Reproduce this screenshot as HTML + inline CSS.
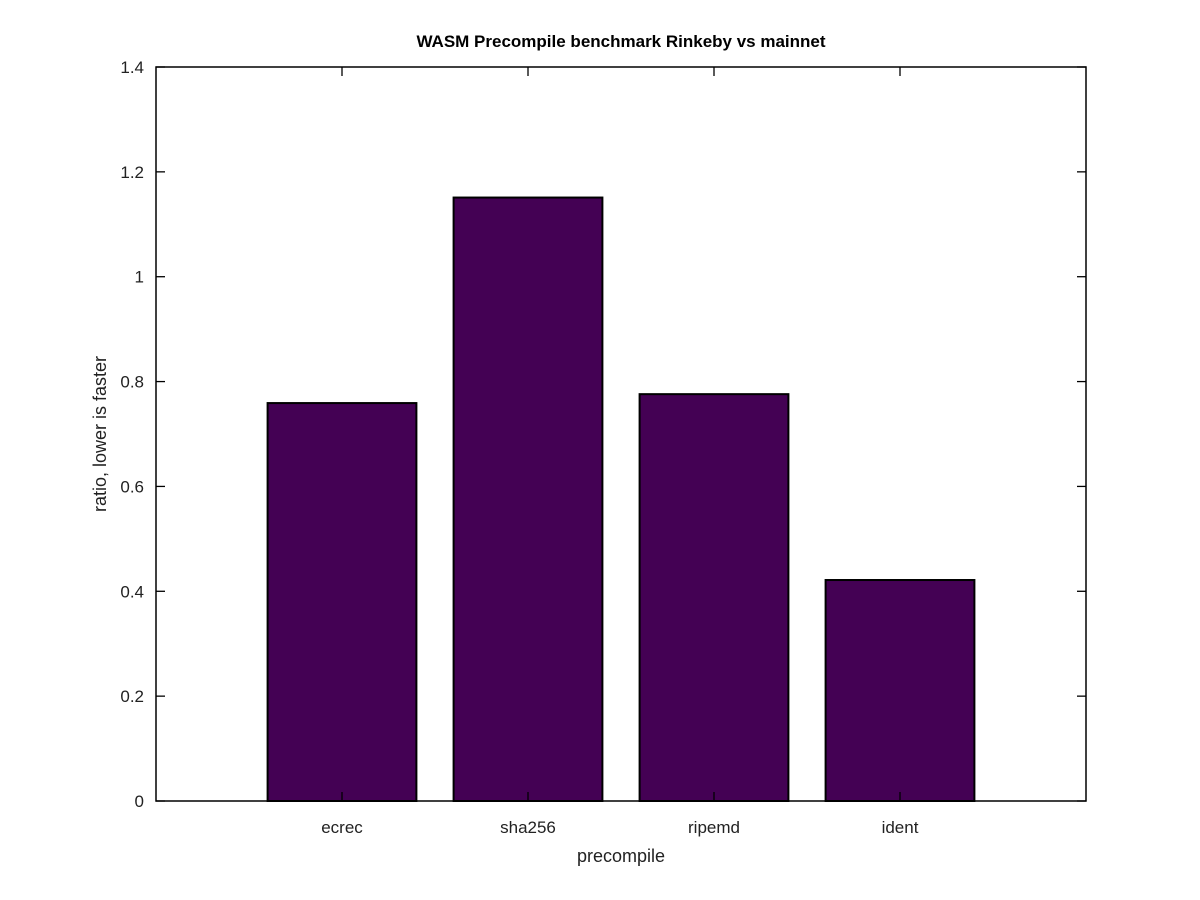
<!DOCTYPE html>
<html><head><meta charset="utf-8"><style>
body{margin:0;background:#fff;}
svg{display:block;font-family:"Liberation Sans",sans-serif;}
</style></head><body>
<svg id="chart" width="1200" height="900">
<text x="621" y="47" text-anchor="middle" font-size="17" font-weight="bold">WASM Precompile benchmark Rinkeby vs mainnet</text>
<text x="621" y="862" text-anchor="middle" font-size="18" fill="#222">precompile</text>
<text transform="translate(106,434) rotate(-90)" text-anchor="middle" font-size="18" fill="#222">ratio, lower is faster</text>
<g id="bars"></g>
<g id="axes"></g>
</svg>
<script>
const categories = ["ecrec", "sha256", "ripemd", "ident"];
const values = [0.759, 1.151, 0.776, 0.4215];
const yTicks = [0, 0.2, 0.4, 0.6, 0.8, 1, 1.2, 1.4];
const yTickLabels = ["0", "0.2", "0.4", "0.6", "0.8", "1", "1.2", "1.4"];

const L = 156, R = 1086, T = 67, B = 801;
const yMax = 1.4, xMin = 0, xMax = categories.length + 1;
const ns = "http://www.w3.org/2000/svg";
function y(v){ return B - (v / yMax) * (B - T); }
function x(i){ return L + ((i + 1 - xMin) / (xMax - xMin)) * (R - L); }
const step = (R - L) / (xMax - xMin);
const bw = step * 0.8;
function mk(tag, attrs, parent){
  const e = document.createElementNS(ns, tag);
  for (const k in attrs) e.setAttribute(k, attrs[k]);
  parent.appendChild(e); return e;
}
const bars = document.getElementById("bars");
const axes = document.getElementById("axes");
categories.forEach((c, i) => {
  const r = mk("rect", {x: x(i) - bw/2, y: y(values[i]), width: bw, height: B - y(values[i]), fill: "#440154", stroke: "#000", "stroke-width": 2}, bars);
  
  
  const t = mk("text", {x: x(i), y: B + 32, "text-anchor": "middle", "font-size": 17, fill: "#222"}, axes);
  t.textContent = c;
  
  
  mk("line", {x1: x(i), x2: x(i), y1: B, y2: B - 9, stroke: "#000", "stroke-width": 1.3}, axes);
  mk("line", {x1: x(i), x2: x(i), y1: T, y2: T + 9, stroke: "#000", "stroke-width": 1.3}, axes);
});
yTicks.forEach((v, i) => {
  mk("line", {x1: L, x2: L + 9, y1: y(v), y2: y(v), stroke: "#000", "stroke-width": 1.3}, axes);
  mk("line", {x1: R, x2: R - 9, y1: y(v), y2: y(v), stroke: "#000", "stroke-width": 1.3}, axes);
  const t = mk("text", {x: L - 12, y: y(v) + 6, "text-anchor": "end", "font-size": 17, fill: "#222"}, axes);
  t.textContent = yTickLabels[i];
  
  
});
const frame = mk("rect", {x: L, y: T, width: R - L, height: B - T, fill: "none", stroke: "#000", "stroke-width": 1.5}, axes);


</script>
</body></html>
